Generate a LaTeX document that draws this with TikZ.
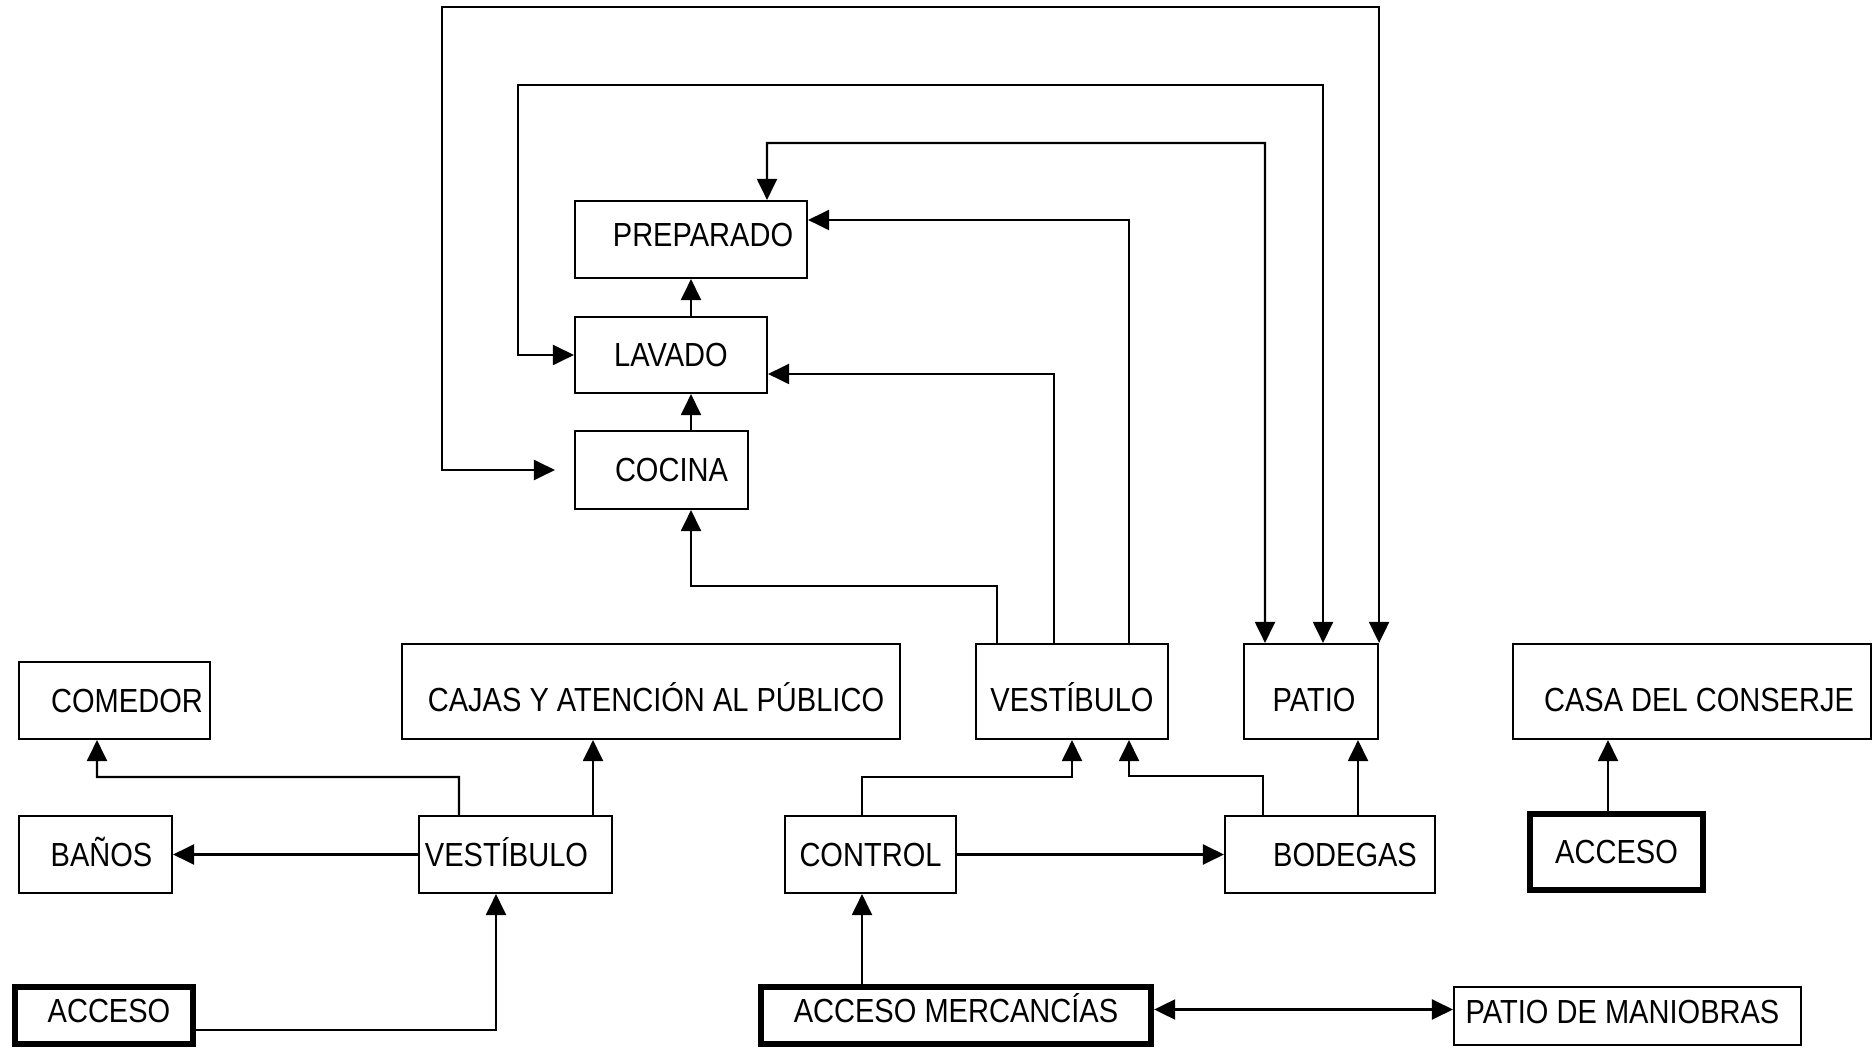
\documentclass[tikz,border=0pt]{standalone}
\usepackage{fontspec}
\setmainfont[FakeStretch=0.87]{Liberation Sans}
\usetikzlibrary{arrows.meta}

\begin{document}
\begin{tikzpicture}[
    caja/.style={draw, line width=0.6pt, inner sep=0pt, text height=2.4mm, text depth=0pt, font=\fontsize{9.5}{11}\selectfont},
    alta/.style={caja, text height=4.1mm},
    baja/.style={text depth=1mm},
    acceso/.style={caja, line width=1.8pt},
    flecha/.style={line width=0.6pt, -{Triangle[length=2.1mm, width=2mm]}},
    doble/.style={line width=0.6pt, {Triangle[length=2.1mm, width=2mm]}-{Triangle[length=2.1mm, width=2mm]}}
    ]
    \useasboundingbox (0,0) rectangle (18.74,10.48);

    % cocina
    \node [caja, baja, minimum width=2.32cm, minimum height=0.77cm] (prep) at (6.91,8.085) {\hspace*{2.4mm}PREPARADO};
    \node [caja, minimum width=1.92cm, minimum height=0.76cm] (lav) at (6.71,6.93) {LAVADO};
    \node [caja, minimum width=1.73cm, minimum height=0.78cm] (coc) at (6.615,5.78) {\hspace*{2mm}COCINA};

    \node [caja, minimum width=1.91cm, minimum height=0.77cm] (com) at (1.145,3.475) {\hspace*{2.5mm}COMEDOR};
    \node [alta, minimum width=4.98cm, minimum height=0.95cm] (cajas) at (6.51,3.565) {\hspace*{1mm}CAJAS Y ATENCIÓN AL PÚBLICO};
    \node [alta, minimum width=1.92cm, minimum height=0.95cm] (vesA) at (10.72,3.565) {VESTÍBULO};
    \node [alta, minimum width=1.34cm, minimum height=0.95cm] (patio) at (13.11,3.565) {\hspace*{0.6mm}PATIO};
    \node [alta, minimum width=3.58cm, minimum height=0.95cm] (casa) at (16.92,3.565) {\hspace*{1.4mm}CASA DEL CONSERJE};

    \node [caja, minimum width=1.53cm, minimum height=0.77cm] (banos) at (0.955,1.935) {\hspace*{1.2mm}BAÑOS};
    \node [caja, minimum width=1.93cm, minimum height=0.77cm] (vesB) at (5.155,1.935) {VESTÍBULO\hspace*{1.8mm}};
    \node [caja, minimum width=1.71cm, minimum height=0.77cm] (control) at (8.705,1.935) {CONTROL};
    \node [caja, minimum width=2.10cm, minimum height=0.77cm] (bodegas) at (13.30,1.935) {\hspace*{3mm}BODEGAS};
    \node [acceso, minimum width=1.73cm, minimum height=0.76cm] (accR) at (16.165,1.96) {ACCESO};

    \node [acceso, baja, minimum width=1.78cm, minimum height=0.57cm] (accL) at (1.04,0.325) {\hspace*{1mm}ACCESO};
    \node [acceso, baja, minimum width=3.90cm, minimum height=0.57cm] (accM) at (9.56,0.325) {ACCESO MERCANCÍAS};
    \node [caja, baja, minimum width=3.47cm, minimum height=0.58cm] (pman) at (16.275,0.32) {PATIO DE MANIOBRAS\hspace*{1mm}};

    % patio con cocina
    \draw [doble, shorten >=1.9mm] (patio.north east) |- (4.42,10.41) |- (coc.west);
    \draw [doble] ([xshift=1.2mm]patio.north) |- (5.18,9.63) |- (lav.west);
    \draw [doble] ([xshift=-4.6mm]patio.north) |- (7.67,9.05) -- ([xshift=7.6mm]prep.north);

    \draw [flecha] ([xshift=5.7mm]vesA.north) |- ([yshift=1.95mm]prep.east);
    \draw [flecha] ([xshift=-1.8mm]vesA.north) |- ([yshift=-1.9mm]lav.east);
    \draw [flecha] ([xshift=-7.5mm]vesA.north) |- (6.91,4.62) -- (coc.south -| prep.south);

    \draw [flecha] (lav.north -| prep.south) -- (prep.south);
    \draw [flecha] (coc.north -| prep.south) -- (lav.south -| prep.south);

    % zona publica
    \draw [flecha] ([xshift=-5.65mm]vesB.north) |- (0.97,2.71) -- ([xshift=-1.75mm]com.south);
    \draw [flecha] ([xshift=7.75mm]vesB.north) -- ([xshift=7.75mm]vesB.north |- cajas.south);
    \draw [flecha] (vesB.west) -- (banos.east);
    \draw [flecha] ([yshift=-1.45mm]accL.east) -| ([xshift=-1.95mm]vesB.south);

    % servicio
    \draw [flecha] ([xshift=-0.85mm]control.north) -- ++(0,0.38) -| (vesA.south);
    \draw [flecha] ([xshift=-6.7mm]bodegas.north) -- ++(0,0.39) -| ([xshift=5.7mm]vesA.south);
    \draw [flecha] ([xshift=2.8mm]bodegas.north) -- ([xshift=2.8mm]bodegas.north |- patio.south);
    \draw [flecha] (control.east) -- (bodegas.west);
    \draw [flecha] ([xshift=-9.4mm]accM.north) -- ([xshift=-9.4mm]accM.north |- control.south);
    \draw [doble] ([yshift=0.6mm]accM.east) -- ([yshift=0.6mm]accM.east -| pman.west);

    \draw [flecha] ([xshift=-0.85mm]accR.north) -- ([xshift=-0.85mm]accR.north |- casa.south);

\end{tikzpicture}
\end{document}
